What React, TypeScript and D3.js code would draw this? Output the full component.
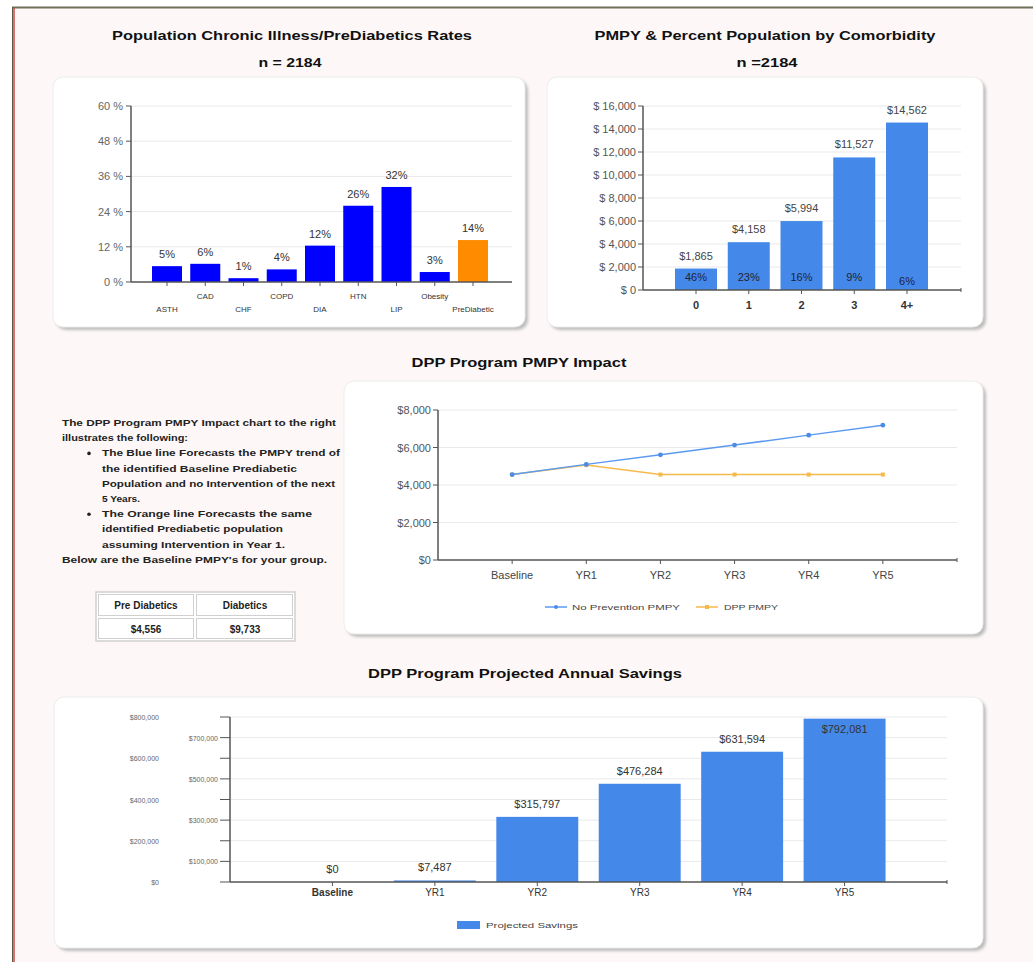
import React from "react";
import * as d3 from "d3";

const illnessCats = ["ASTH", "CAD", "CHF", "COPD", "DIA", "HTN", "LIP", "Obesity", "PreDiabetic"];
const illnessRates = [5.4, 6.2, 1.3, 4.3, 12.4, 26, 32.4, 3.4, 14.3];
const rateTicks = [0, 12, 24, 36, 48, 60];

const comorbCats = ["0", "1", "2", "3", "4+"];
const comorbPmpy = [1865, 4158, 5994, 11527, 14562];
const comorbPct = [46, 23, 16, 9, 6];
const pmpyTicks = [0, 2000, 4000, 6000, 8000, 10000, 12000, 14000, 16000];

const years = ["Baseline", "YR1", "YR2", "YR3", "YR4", "YR5"];
const noPrevention = [4556, 5100, 5610, 6130, 6660, 7190];
const dppPmpy = [4556, 5060, 4556, 4556, 4556, 4556];
const impactTicks = [0, 2000, 4000, 6000, 8000];

const savings = [0, 7487, 315797, 476284, 631594, 792081];
const savingsTicks = [0, 100000, 200000, 300000, 400000, 500000, 600000, 700000, 800000];

const noteLines = [
  "The DPP Program PMPY Impact chart to the right",
  "illustrates the following:",
];
const bullet1 = [
  "The Blue line Forecasts the PMPY trend of",
  "the identified Baseline Prediabetic",
  "Population and no Intervention of the next",
  "5 Years.",
];
const bullet2 = [
  "The Orange line Forecasts the same",
  "identified Prediabetic population",
  "assuming Intervention in Year 1.",
];
const noteEnd = "Below are the Baseline PMPY's for your group.";
const tableHead = ["Pre Diabetics", "Diabetics"];
const tableVals = ["$4,556", "$9,733"];

const FONT = "'Liberation Sans', Arial, sans-serif";
const BAR_BLUE = "#4489ea";
const GRID = "#e9e9e9";
const AXIS = "#555";

function Panel({ x, y, w, h }: { x: number; y: number; w: number; h: number }) {
  return (
    <g>
      <rect x={x + 3} y={y + 3} width={w} height={h} rx={10} fill="#bdbdbd" filter="url(#shadow)" />
      <rect x={x} y={y} width={w} height={h} rx={10} fill="#fff" stroke="#ececec" />
    </g>
  );
}

function Title({ x, y, text, w }: { x: number; y: number; text: string; w: number }) {
  return (
    <text x={x} y={y} textAnchor="middle" fontFamily={FONT} fontWeight="bold" fontSize={13}
      fill="#111" textLength={w} lengthAdjust="spacingAndGlyphs">{text}</text>
  );
}

function IllnessChart() {
  const x = d3.scalePoint().domain(illnessCats).range([167, 473]);
  const bw = 30;
  const y = d3.scaleLinear().domain([0, 60]).range([282, 106]);
  const left = 131, right = 512;
  return (
    <g fontFamily={FONT}>
      {rateTicks.map((t) => (
        <g key={t}>
          {t > 0 && <line x1={left} x2={right} y1={y(t)} y2={y(t)} stroke={GRID} />}
          <line x1={left - 5} x2={left} y1={y(t)} y2={y(t)} stroke={AXIS} />
          <text x={left - 8} y={y(t) + 4} textAnchor="end" fontSize={11} fill="#666">{t} %</text>
        </g>
      ))}
      {illnessCats.map((c, i) => {
        const v = illnessRates[i];
        const cx = x(c)!;
        return (
          <g key={c}>
            <rect x={cx - bw / 2} y={y(v)} width={bw} height={y(0) - y(v)}
              fill={c === "PreDiabetic" ? "#ff8c00" : "#0000ff"} />
            <text x={cx} y={y(v) - 8} textAnchor="middle" fontSize={11} fill="#333">{Math.round(v)}%</text>
            <line x1={cx} x2={cx} y1={282} y2={286} stroke={AXIS} />
            <text x={cx} y={i % 2 === 0 ? 312 : 299} textAnchor="middle" fontSize={8} fill="#333">{c}</text>
          </g>
        );
      })}
      <line x1={left} x2={left} y1={106} y2={282} stroke={AXIS} strokeWidth={1.5} />
      <line x1={left} x2={right} y1={282} y2={282} stroke={AXIS} strokeWidth={1.5} />
    </g>
  );
}

function ComorbChart() {
  const x = d3.scalePoint().domain(comorbCats).range([696, 907]);
  const bw = 42;
  const y = d3.scaleLinear().domain([0, 16000]).range([290, 106]);
  const left = 643, right = 961;
  const fmt = d3.format(",");
  return (
    <g fontFamily={FONT}>
      {pmpyTicks.map((t) => (
        <g key={t}>
          {t > 0 && <line x1={left} x2={right} y1={y(t)} y2={y(t)} stroke={GRID} />}
          <line x1={left - 5} x2={left} y1={y(t)} y2={y(t)} stroke={AXIS} />
          <text x={left - 7} y={y(t) + 4} textAnchor="end" fontSize={11} fill="#555">$ {fmt(t)}</text>
        </g>
      ))}
      {comorbCats.map((c, i) => {
        const v = comorbPmpy[i];
        const cx = x(c)!;
        return (
          <g key={c}>
            <rect x={cx - bw / 2} y={y(v)} width={bw} height={y(0) - y(v)} fill={BAR_BLUE} />
            <text x={cx} y={y(v) - 9} textAnchor="middle" fontSize={11} fill="#444">${fmt(v)}</text>
            <text x={cx} y={i === 4 ? 285 : 281} textAnchor="middle" fontSize={11} fill="#223">{comorbPct[i]}%</text>
            <line x1={cx} x2={cx} y1={290} y2={294} stroke={AXIS} />
            <text x={cx} y={309} textAnchor="middle" fontSize={11} fontWeight="bold" fill="#333">{c}</text>
          </g>
        );
      })}
      <line x1={left} x2={left} y1={106} y2={290} stroke={AXIS} strokeWidth={1.5} />
      <line x1={left} x2={right} y1={290} y2={290} stroke={AXIS} strokeWidth={1.5} />
      <line x1={right} x2={right} y1={288} y2={292} stroke={AXIS} />
    </g>
  );
}

function ImpactChart() {
  const left = 438, right = 957;
  const x = d3.scalePoint().domain(years).range([left, right]).padding(1);
  const y = d3.scaleLinear().domain([0, 8000]).range([560, 410]);
  const fmt = d3.format("$,");
  const line = d3.line<number>().x((_, i) => x(years[i])!).y((d) => y(d));
  return (
    <g fontFamily={FONT}>
      {impactTicks.map((t) => (
        <g key={t}>
          {t > 0 && <line x1={left} x2={right} y1={y(t)} y2={y(t)} stroke={GRID} />}
          <line x1={left - 5} x2={left} y1={y(t)} y2={y(t)} stroke={AXIS} />
          <text x={left - 7} y={y(t) + 4} textAnchor="end" fontSize={11} fill="#555">{fmt(t)}</text>
        </g>
      ))}
      {years.map((c) => (
        <g key={c}>
          <line x1={x(c)!} x2={x(c)!} y1={560} y2={564} stroke={AXIS} />
          <text x={x(c)!} y={579} textAnchor="middle" fontSize={11} fill="#444">{c}</text>
        </g>
      ))}
      <line x1={left} x2={left} y1={410} y2={560} stroke={AXIS} strokeWidth={1.5} />
      <line x1={left} x2={right} y1={560} y2={560} stroke={AXIS} strokeWidth={1.5} />
      <line x1={right} x2={right} y1={558} y2={562} stroke={AXIS} />
      <path d={line(dppPmpy)!} fill="none" stroke="#f6b94c" strokeWidth={1.5} />
      {dppPmpy.map((v, i) => (
        <rect key={i} x={x(years[i])! - 2} y={y(v) - 2} width={4} height={4} fill="#f6b94c" />
      ))}
      <path d={line(noPrevention)!} fill="none" stroke="#5a9af0" strokeWidth={1.5} />
      {noPrevention.map((v, i) => (
        <circle key={i} cx={x(years[i])!} cy={y(v)} r={2.4} fill="#4a8bea" />
      ))}
      <g fontSize={8} fill="#444">
        <line x1={545} x2={567} y1={607} y2={607} stroke="#5a9af0" strokeWidth={1.5} />
        <circle cx={556} cy={607} r={2} fill="#4a8bea" />
        <text x={572} y={610} textLength={108} lengthAdjust="spacingAndGlyphs">No Prevention PMPY</text>
        <line x1={696} x2={718} y1={607} y2={607} stroke="#f6b94c" strokeWidth={1.5} />
        <rect x={705} y={605} width={4} height={4} fill="#f6b94c" />
        <text x={724} y={610} textLength={54} lengthAdjust="spacingAndGlyphs">DPP PMPY</text>
      </g>
    </g>
  );
}

function SavingsChart() {
  const left = 230, right = 947;
  const x = d3.scalePoint().domain(years).range([left, right]).padding(1);
  const bw = x.step() * 0.8;
  const y = d3.scaleLinear().domain([0, 800000]).range([882, 717]);
  const fmt = d3.format("$,");
  return (
    <g fontFamily={FONT}>
      {savingsTicks.map((t, i) => (
        <g key={t}>
          {t > 0 && <line x1={left} x2={right} y1={y(t)} y2={y(t)} stroke={GRID} />}
          <line x1={left - 10} x2={left} y1={y(t)} y2={y(t)} stroke={AXIS} />
          <text x={i % 2 === 0 ? 159 : 218} y={y(t) + 3} textAnchor="end" fontSize={7} fill="#666">{fmt(t)}</text>
        </g>
      ))}
      {years.map((c, i) => {
        const v = savings[i];
        const cx = x(c)!;
        const top = y(v);
        const inside = top - 14 < 717;
        return (
          <g key={c}>
            {v > 0 && <rect x={cx - bw / 2} y={top} width={bw} height={y(0) - top} fill={BAR_BLUE} />}
            <text x={cx} y={inside ? top + 14 : top - 9} textAnchor="middle" fontSize={11} fill="#333">{fmt(v)}</text>
            <line x1={cx} x2={cx} y1={882} y2={886} stroke={AXIS} />
            <text x={cx} y={896} textAnchor="middle" fontSize={10} fontWeight={i === 0 ? "bold" : "normal"} fill="#333">{c}</text>
          </g>
        );
      })}
      <line x1={left} x2={left} y1={717} y2={882} stroke={AXIS} strokeWidth={1.5} />
      <line x1={left} x2={right} y1={882} y2={882} stroke={AXIS} strokeWidth={1.5} />
      <line x1={right} x2={right} y1={880} y2={884} stroke={AXIS} />
      <rect x={457} y={921} width={23} height={8} fill={BAR_BLUE} />
      <text x={486} y={928} fontSize={8} fill="#444" textLength={92} lengthAdjust="spacingAndGlyphs">Projected Savings</text>
    </g>
  );
}

function Notes() {
  const lineW = [274, 126];
  const b1W = [238, 195, 233, 38];
  const b2W = [210, 181, 183];
  const common = { fontFamily: FONT, fontSize: 9, fontWeight: "bold" as const, fill: "#222", lengthAdjust: "spacingAndGlyphs" };
  let yy = 426;
  const out: React.ReactNode[] = [];
  noteLines.forEach((t, i) => {
    out.push(<text key={"n" + i} x={62} y={yy} textLength={lineW[i]} {...common}>{t}</text>);
    yy += 15.2;
  });
  [[bullet1, b1W], [bullet2, b2W]].forEach(([lines, ws]: any, bi) => {
    (lines as string[]).forEach((t, i) => {
      if (i === 0) out.push(<circle key={"bc" + bi} cx={89} cy={yy - 3} r={1.8} fill="#222" />);
      out.push(<text key={"b" + bi + i} x={102} y={yy} textLength={ws[i]} {...common}>{t}</text>);
      yy += 15.2;
    });
  });
  out.push(<text key="end" x={62} y={yy} textLength={265} {...common}>{noteEnd}</text>);
  return (
    <g>
      {out}
      <rect x={96} y={592} width={199} height={49} fill="#fff" stroke="#d0d0d0" strokeWidth={1.5} />
      <rect x={98.5} y={594.5} width={95} height={21} fill="none" stroke="#d0d0d0" />
      <rect x={196.5} y={594.5} width={96} height={21} fill="none" stroke="#d0d0d0" />
      <rect x={98.5} y={618.5} width={95} height={20} fill="none" stroke="#d0d0d0" />
      <rect x={196.5} y={618.5} width={96} height={20} fill="none" stroke="#d0d0d0" />
      {tableHead.map((t, i) => (
        <text key={t} x={146 + i * 99} y={609} textAnchor="middle" fontFamily={FONT} fontSize={10}
          fontWeight="bold" fill="#222">{t}</text>
      ))}
      {tableVals.map((t, i) => (
        <text key={t} x={146 + i * 99} y={633} textAnchor="middle" fontFamily={FONT} fontSize={10}
          fontWeight="bold" fill="#222">{t}</text>
      ))}
    </g>
  );
}

export default function App() {
  return (
    <svg width={1033} height={962} style={{ position: "absolute", left: 0, top: 0, display: "block" }}>
      <defs>
        <filter id="shadow" x="-5%" y="-5%" width="110%" height="110%">
          <feGaussianBlur stdDeviation="1.6" />
        </filter>
      </defs>
      <rect x={0} y={0} width={1033} height={962} fill="#fff" />
      <rect x={13} y={8} width={1020} height={954} fill="#fdf8f7" />
      <line x1={12} x2={1033} y1={7.5} y2={7.5} stroke="#6f6f58" strokeWidth={2} />
      <line x1={12.5} x2={12.5} y1={7} y2={962} stroke="#5e5a44" strokeWidth={1} />
      <line x1={14} x2={14} y1={8} y2={962} stroke="#c94848" strokeWidth={1.5} />

      <Title x={292} y={40} text="Population Chronic Illness/PreDiabetics Rates" w={360} />
      <Title x={290} y={67} text="n = 2184" w={63} />
      <Title x={765} y={40} text="PMPY & Percent Population by Comorbidity" w={341} />
      <Title x={767} y={67} text="n =2184" w={61} />

      <Panel x={53} y={77} w={472} h={250} />
      <Panel x={547} y={77} w={436} h={250} />
      <IllnessChart />
      <ComorbChart />

      <Title x={519} y={367} text="DPP Program PMPY Impact" w={215} />
      <Panel x={344} y={381} w={639} h={253} />
      <ImpactChart />
      <Notes />

      <Title x={525} y={678} text="DPP Program Projected Annual Savings" w={314} />
      <Panel x={54} y={697} w={929} h={251} />
      <SavingsChart />
    </svg>
  );
}
